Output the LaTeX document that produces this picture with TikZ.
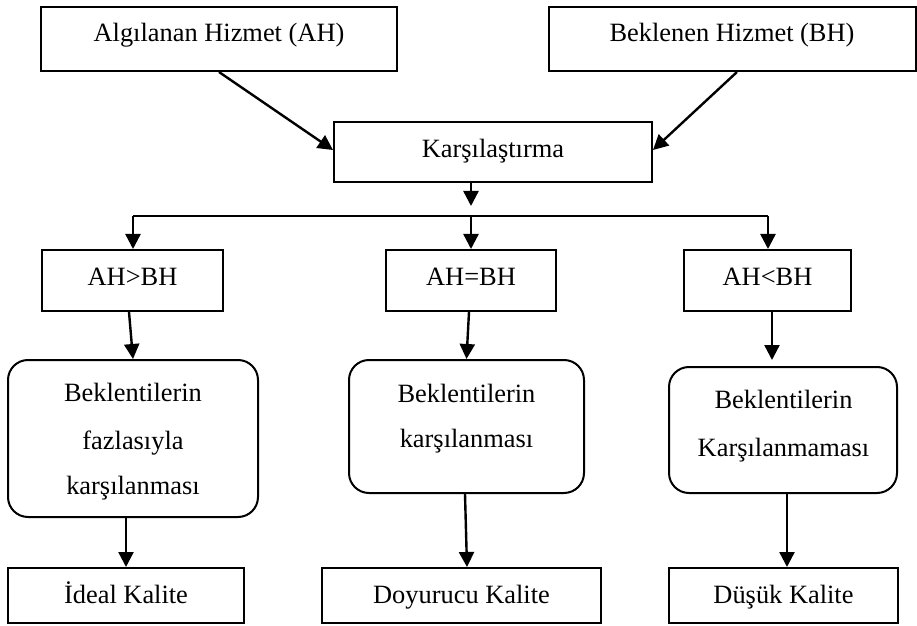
\documentclass[tikz,border=0pt]{standalone}
\usepackage{fontspec}
\setmainfont{Liberation Serif}
\usetikzlibrary{arrows.meta,calc}
\begin{document}
\begin{tikzpicture}[x=0.5pt,y=-0.5pt,
  every node/.style={font=\fontsize{13.2}{23}\selectfont, inner sep=0pt, align=center},
  box/.style={draw, line width=1pt, rectangle, text depth=0pt},
  rbox/.style={draw, line width=1pt, rectangle, rounded corners=10pt},
  txt/.style={anchor=base},
  arr/.style={line width=1.2pt, -{Triangle[length=7.5pt,width=7.5pt]}},
  ln/.style={line width=1.2pt}]
\useasboundingbox (0,0) rectangle (917,626);
% top row
\node[box, text height=3pt, minimum width=178pt, minimum height=32pt] (ah) at (219,39) {Algılanan Hizmet (AH)};
\node[box, text height=3pt, minimum width=183.5pt, minimum height=32pt] (bh) at (732,39) {Beklenen Hizmet (BH)};
\node[box, text height=5.6pt, minimum width=159pt, minimum height=30pt] (kar) at (493,152) {Karşılaştırma};
% comparison boxes
\node[box, text height=5.2pt, minimum width=90.5pt, minimum height=30.5pt] (g1) at (132.5,280.5) {AH>BH};
\node[box, text height=5.2pt, minimum width=85pt, minimum height=30.5pt] (g2) at (471,280.5) {AH=BH};
\node[box, text height=5.2pt, minimum width=83.5pt, minimum height=30.5pt] (g3) at (767.5,280.5) {AH<BH};
% rounded boxes
\node[rbox, minimum width=125pt, minimum height=78.5pt] (r1) at (133,438.5) {};
\node[rbox, minimum width=117.5pt, minimum height=66.5pt] (r2) at (466.5,426.5) {};
\node[rbox, minimum width=114pt, minimum height=63pt] (r3) at (783,430) {};
\node[txt] (r1a) at (133,401.7) {Beklentilerin};
\node[txt] (r1b) at (133,449.3) {fazlasıyla};
\node[txt] (r1c) at (133,494.3) {karşılanması};
\node[txt] (r2a) at (466.5,402.3) {Beklentilerin};
\node[txt] (r2b) at (466.5,447.5) {karşılanması};
\node[txt] (r3a) at (783.5,408.3) {Beklentilerin};
\node[txt] (r3b) at (783.5,456) {Karşılanmaması};
% quality boxes
\node[box, text height=7.8pt, minimum width=118pt, minimum height=27.5pt] (q1) at (126,595.5) {İdeal Kalite};
\node[box, text height=7.8pt, minimum width=139.5pt, minimum height=27.5pt] (q2) at (461.5,595.5) {Doyurucu Kalite};
\node[box, text height=7.8pt, minimum width=114.5pt, minimum height=27.5pt] (q3) at (783.5,595.5) {Düşük Kalite};
% top arrows
\draw[arr] (ah.south) -- ($(kar.west)+(0,-2)$);
\draw[arr] ($(bh.south)+(5,0)$) -- ($(kar.east)+(0,-2)$);
% split
\coordinate (s) at (471,206);
\coordinate (hl) at (133,216);
\coordinate (hm) at (471,216);
\coordinate (hr) at (768,216);
\draw[arr] (kar.south -| s) -- (s);
\draw[ln] (hl) -- (hr);
\draw[arr] (hl) -- (hl |- g1.north);
\draw[arr] (hm) -- (hm |- g2.north);
\draw[arr] (hr) -- (hr |- g3.north);
% to rounded boxes
\draw[arr] ($(g1.south)+(-3.5,0)$) -- (r1.north);
\draw[arr] ($(g2.south)+(-2,0)$) -- (r2.north);
\coordinate (t3) at (772,360);
\draw[arr] (g3.south -| t3) -- (t3);
% to quality boxes
\draw[arr] (r1.south -| q1.north) -- (q1.north);
\draw[arr] ($(r2.south)+(-1.5,0)$) -- ($(q2.north)+(5.5,0)$);
\draw[arr] ($(r3.south)+(4,0)$) -- ($(q3.north)+(3.5,0)$);
\end{tikzpicture}
\end{document}
